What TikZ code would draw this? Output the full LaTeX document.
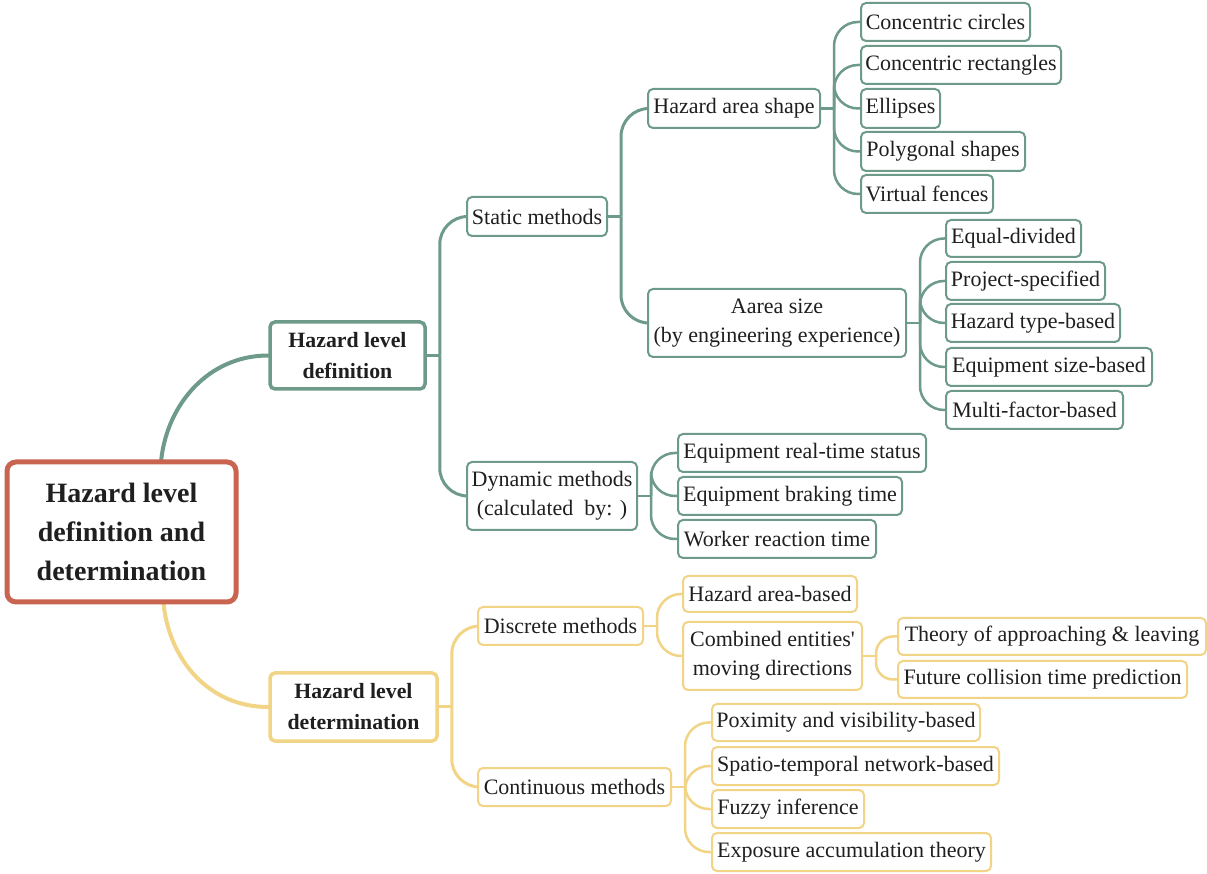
\documentclass[tikz,border=0pt]{standalone}
\usepackage{fontspec}
\setmainfont{Liberation Serif}
\usetikzlibrary{calc,backgrounds}
\definecolor{gr}{HTML}{6E9A8A}
\definecolor{yl}{HTML}{F1D486}
\definecolor{rd}{HTML}{C8644F}
\tikzset{
  box/.style={draw, rounded corners=5pt, fill=white, inner sep=0pt, align=center,
    font=\fontsize{22}{29}\selectfont, text=black!88},
  gbox/.style={box, draw=gr, line width=2pt},
  ybox/.style={box, draw=yl, line width=2pt},
  glv/.style={box, draw=gr, line width=3.5pt, font=\fontsize{21.8}{31}\selectfont\bfseries},
  ylv/.style={box, draw=yl, line width=3.5pt, font=\fontsize{21.8}{31}\selectfont\bfseries},
  rootbox/.style={box, draw=rd, line width=5pt, rounded corners=9pt, font=\fontsize{28}{39}\selectfont\bfseries},
  gmain/.style={draw=gr, line width=4pt, line cap=round},
  ymain/.style={draw=yl, line width=4pt, line cap=round},
  gl/.style={draw=gr, line width=3pt, rounded corners=28pt},
  yll/.style={draw=yl, line width=3pt, rounded corners=28pt},
  gs/.style={draw=gr, line width=2.5pt, rounded corners=24pt},
  ys/.style={draw=yl, line width=2.5pt, rounded corners=24pt},
  yt/.style={draw=yl, line width=2.5pt, rounded corners=17pt},
}
\newcommand\bx[7]{%
  \pgfmathsetmacro\bw{#4-#2}\pgfmathsetmacro\bh{#5-#3}%
  \node[#6, minimum width=\bw pt, minimum height=\bh pt] (#1) at ({(#2+#4)/2},{873-(#3+#5)/2}) {#7};}
\newcommand\br[3]{%
  \draw[#1] (#2.east) -- ++(13,0);
  \foreach \c in {#3} {\draw[#1] ($(#2.east)+(13,0)$) |- (\c.west);}}
\begin{document}
\begin{tikzpicture}[x=1pt,y=1pt]
\useasboundingbox (0,0) rectangle (1207,873);
% nodes
\bx{root}{7}{462}{236}{602}{rootbox}{Hazard level\\definition and\\determination}
\bx{hld}{270}{322}{425}{389}{glv}{Hazard level\\definition}
\bx{hldet}{270}{673}{437}{741}{ylv}{Hazard level\\determination}
\bx{static}{467}{197}{607}{236}{gbox}{Static methods}
\bx{has}{648}{89}{820}{128}{gbox}{Hazard area shape}
\bx{cc}{861}{3}{1030}{41}{gbox}{Concentric circles}
\bx{cr}{861}{46}{1061}{84}{gbox}{Concentric rectangles}
\bx{el}{861}{89}{940}{128}{gbox}{Ellipses}
\bx{poly}{861}{132}{1025}{171}{gbox}{Polygonal shapes}
\bx{vf}{861}{175}{993}{213}{gbox}{Virtual fences}
\bx{asz}{648}{289}{906}{357}{gbox}{Aarea size\\(by engineering experience)}
\bx{ed}{946}{220}{1081}{257}{gbox}{Equal-divided}
\bx{ps}{946}{262}{1105}{300}{gbox}{Project-specified}
\bx{htb}{946}{304}{1120}{342}{gbox}{Hazard type-based}
\bx{esb}{946}{348}{1152}{386}{gbox}{Equipment size-based}
\bx{mfb}{946}{391}{1123}{429}{gbox}{Multi-factor-based}
\bx{dyn}{467}{462}{637}{530}{gbox}{Dynamic methods\\(calculated\ \ by: )}
\bx{ert}{678}{434}{926}{472}{gbox}{Equipment real-time status}
\bx{ebt}{678}{477}{902}{515}{gbox}{Equipment braking time}
\bx{wrt}{678}{520}{876}{558}{gbox}{Worker reaction time}
\bx{disc}{478}{607}{643}{645}{ybox}{Discrete methods}
\bx{hab}{683}{576}{857}{612}{ybox}{Hazard area-based}
\bx{ced}{683}{622}{862}{690}{ybox}{Combined entities\textquotesingle\\moving directions}
\bx{tal}{898}{618}{1206}{655}{ybox}{Theory of approaching \& leaving}
\bx{fct}{898}{661}{1187}{698}{ybox}{Future collision time prediction}
\bx{cont}{478}{768}{671}{806}{ybox}{Continuous methods}
\bx{pvb}{712}{704}{980}{741}{ybox}{Poximity and visibility-based}
\bx{stn}{712}{747}{999}{785}{ybox}{Spatio-temporal network-based}
\bx{fi}{712}{790}{864}{828}{ybox}{Fuzzy inference}
\bx{eat}{712}{833}{991}{871}{ybox}{Exposure accumulation theory}
% connectors
\begin{scope}[on background layer]
\fill[white] (0,0) rectangle (1207,873);
\draw[gmain] ($(root.north west)!0.67!(root.north east)$) .. controls +(6,55) and +(-60,0) .. (hld.west);
\draw[ymain] ($(root.south west)!0.68!(root.south east)$) .. controls +(6,-55) and +(-60,0) .. (hldet.west);
\br{gl}{hld}{static,dyn}
\br{yll}{hldet}{disc,cont}
\br{gl}{static}{has,asz}
\br{gs}{has}{cc,cr,el,poly,vf}
\br{gs}{asz}{ed,ps,htb,esb,mfb}
\br{gs}{dyn}{ert,ebt,wrt}
\br{ys}{disc}{hab,ced}
\br{yt}{ced}{tal,fct}
\br{ys}{cont}{pvb,stn,fi,eat}
\end{scope}
\end{tikzpicture}
\end{document}
